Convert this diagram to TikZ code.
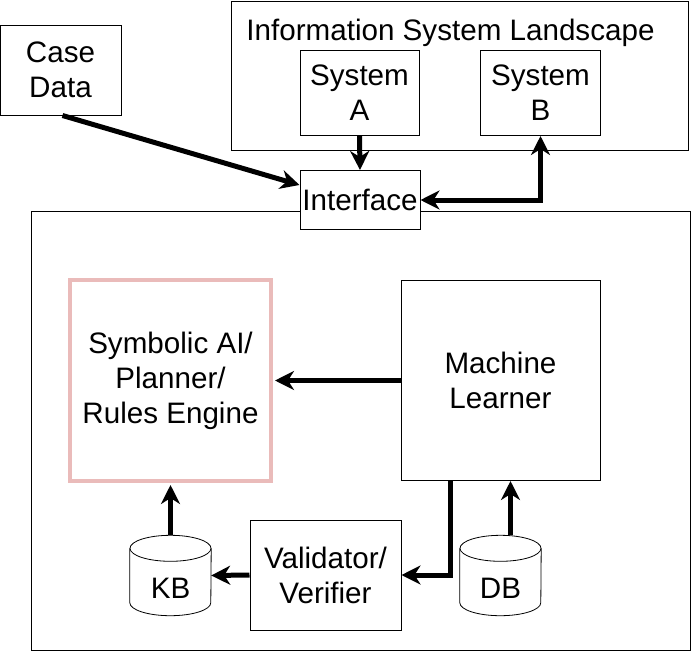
\documentclass[tikz,border=0pt]{standalone}
\usepackage{fontspec}
\setmainfont{Liberation Sans}
\usetikzlibrary{arrows.meta,calc}
\definecolor{pinkedge}{HTML}{EABBBA}
\begin{document}
\begin{tikzpicture}[x=1pt,y=-1pt,
  box/.style={draw, line width=1pt, fill=white, inner sep=0pt, align=center,
    font=\fontsize{29.6}{35}\selectfont},
  txt/.style={inner sep=0pt, align=center, font=\fontsize{29.6}{35}\selectfont},
  tip/.style={},
  arr/.style={line width=5pt, -{Stealth[length=19pt,width=19pt,inset=6pt]}},
  dblarr/.style={line width=5pt, {Stealth[length=19pt,width=19pt,inset=6pt]}-{Stealth[length=19pt,width=19pt,inset=6pt]}}]
\useasboundingbox (0,0) rectangle (691,651);

% containers
\node[box, minimum width=659, minimum height=439] (main) at (360.5,430.5) {};
\node[box, minimum width=457, minimum height=149] (isl) at (459.5,75.5) {};
\node[txt, anchor=base] (isltitle) at (450.5,40) {Information System Landscape};

% boxes
\node[box, minimum width=121, minimum height=90] (case) at (60.5,70) {Case\\Data};
\node[box, minimum width=119, minimum height=85] (sysa) at (359.5,93) {System\\A};
\node[box, minimum width=120, minimum height=85] (sysb) at (540.5,93) {System\\B};
\node[box, minimum width=120, minimum height=59] (iface) at (360,200) {Interface};
\node[box, draw=pinkedge, line width=4pt, minimum width=201, minimum height=201] (sym) at (170.5,380.5) {Symbolic AI/\\Planner/\\Rules Engine};
\node[box, minimum width=199, minimum height=200] (ml) at (500.5,380.5) {Machine\\Learner};
\node[box, minimum width=151, minimum height=110] (val) at (325.5,575) {Validator/\\Verifier};

% cylinders
\node[inner sep=0pt, minimum width=81, minimum height=80] (kb) at (170.5,575.5) {};
\node[inner sep=0pt, minimum width=81, minimum height=80] (db) at (500.5,575.5) {};
\foreach \c in {kb,db}{
  \draw[line width=0.8pt, fill=white] ([yshift=-13pt]\c.north west) -- ([yshift=13pt]\c.south west)
     arc[start angle=180, end angle=360, x radius=40.5pt, y radius=13pt]
     -- ([yshift=-13pt]\c.north east);
  \draw[line width=0.8pt, fill=white] ([yshift=-13pt]\c.north) ellipse [x radius=40.5pt, y radius=13pt];
}
\node[txt] (kbt) at ($(kb.center)+(0,13)$) {KB};
\node[txt] (dbt) at ($(db.center)+(0,13)$) {DB};

% connectors
\draw[arr] ([xshift=2pt]case.south) -- ([yshift=15pt]iface.west);
\draw[arr] (sysa.south) -- (iface.north);
\draw[dblarr] (iface.east) -| (sysb.south);
\draw[arr] (ml.west) -- ([xshift=2pt]sym.east);
\draw[arr] (kb.north) -- ([yshift=-2pt]sym.south);
\draw[arr] (val.west) -- (kb.east);
\draw[arr] ([xshift=-50pt]ml.south) |- (val.east);
\draw[arr] (db.north -| ml.south) ++(10,0) -- ([xshift=10pt]ml.south);
\end{tikzpicture}
\end{document}
